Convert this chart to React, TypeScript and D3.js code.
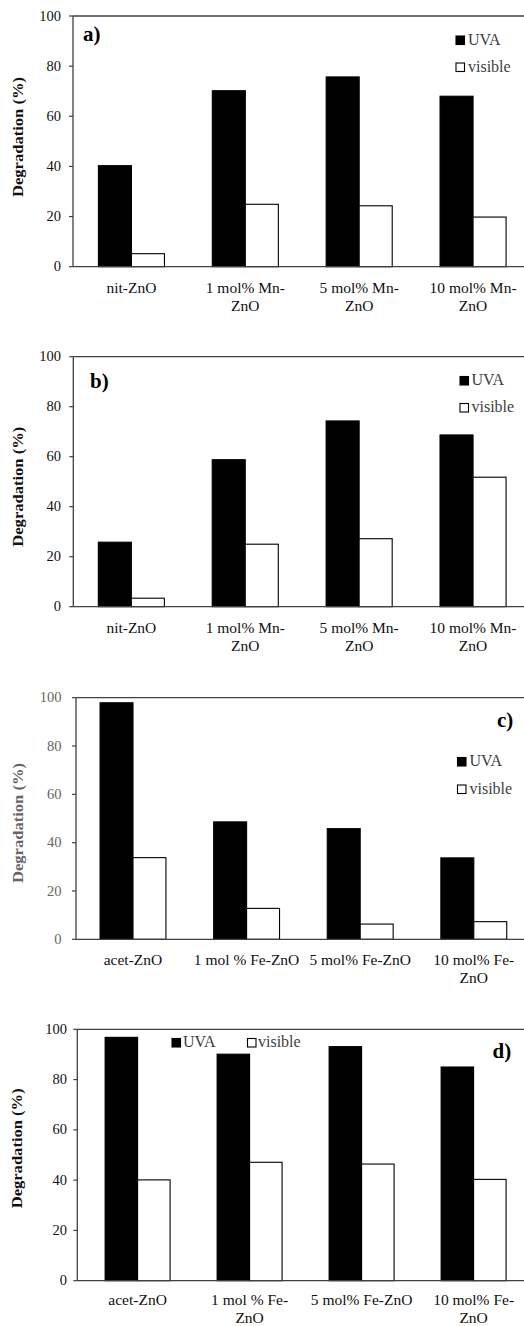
import React from "react";
import * as d3 from "d3";

// ---------- data ----------
const seriesNames = ["UVA", "visible"];
const yTicks = [0, 20, 40, 60, 80, 100];

const categoriesA = [["nit-ZnO"], ["1 mol% Mn-", "ZnO"], ["5 mol% Mn-", "ZnO"], ["10 mol% Mn-", "ZnO"]];
const uvaA = [40.3, 70.2, 75.7, 68.0];
const visibleA = [5.2, 24.9, 24.3, 19.8];

const categoriesB = [["nit-ZnO"], ["1 mol% Mn-", "ZnO"], ["5 mol% Mn-", "ZnO"], ["10 mol% Mn-", "ZnO"]];
const uvaB = [25.8, 58.8, 74.3, 68.7];
const visibleB = [3.4, 25.0, 27.2, 51.8];

const categoriesC = [["acet-ZnO"], ["1 mol % Fe-ZnO"], ["5 mol% Fe-ZnO"], ["10 mol% Fe-", "ZnO"]];
const uvaC = [97.9, 48.6, 45.8, 33.7];
const visibleC = [33.8, 12.8, 6.3, 7.3];

const categoriesD = [["acet-ZnO"], ["1 mol % Fe-", "ZnO"], ["5 mol% Fe-ZnO"], ["10 mol% Fe-", "ZnO"]];
const uvaD = [96.8, 90.1, 93.1, 85.0];
const visibleD = [40.1, 47.1, 46.4, 40.3];

const FONT = "'Liberation Serif', 'Times New Roman', serif";

type Layout = {
  top: number; bottom: number; left: number; xStart: number; xEnd: number;
  tickRight: number; ylabX: number; ylabY: number; labelColor: string;
  letter: string; letterX: number; letterY: number;
  catOffset: number; catGap: number;
  legend: { x: number; y: number; dx: number; dy: number }[];
};

function Panel({ cats, uva, vis, L }: { cats: string[][]; uva: number[]; vis: number[]; L: Layout }) {
  const idx = cats.map((_, i) => String(i));
  const x = d3.scaleBand<string>().domain(idx).range([L.xStart, L.xEnd]).paddingInner(0).paddingOuter(0);
  const y = d3.scaleLinear().domain([0, 100]).range([L.bottom, L.top]);
  const barW = x.step() * 0.29;
  const sub = d3.scaleBand<string>().domain(seriesNames).range([-barW, barW]);
  const axisColor = "#404040";
  return (
    <g>
      {/* bars */}
      {idx.map((k, i) => {
        const cx = (x(k) as number) + x.bandwidth() / 2;
        return (
          <g key={k}>
            {[uva[i], vis[i]].map((v, j) => (
              <rect key={j}
                x={cx + (sub(seriesNames[j]) as number)}
                y={y(v)}
                width={sub.bandwidth()}
                height={y(0) - y(v)}
                fill={j === 0 ? "#000" : "#fff"}
                stroke="#000" strokeWidth={1.1} />
            ))}
          </g>
        );
      })}
      {/* frame */}
      <line x1={L.left} x2={524} y1={L.top} y2={L.top} stroke={axisColor} strokeWidth={1.3} />
      <line x1={L.left} x2={L.left} y1={L.top} y2={L.bottom} stroke={axisColor} strokeWidth={1.3} />
      <line x1={L.left} x2={524} y1={L.bottom} y2={L.bottom} stroke={axisColor} strokeWidth={1.3} />
      {/* ticks */}
      {yTicks.map((t) => (
        <g key={t}>
          <line x1={L.left - 4} x2={L.left} y1={y(t)} y2={y(t)} stroke={axisColor} strokeWidth={1.2} />
          <text x={L.tickRight} y={y(t) + 4.6} textAnchor="end" fontSize={14.5}
            fontFamily={FONT} fill={L.labelColor}>{t}</text>
        </g>
      ))}
      {/* y label */}
      <text transform={`translate(${L.ylabX},${L.ylabY}) rotate(-90)`} textAnchor="middle"
        fontSize={14} fontWeight="bold" fontFamily={FONT} fill={L.labelColor}
        textLength={120} lengthAdjust="spacingAndGlyphs" dy={5}>Degradation (%)</text>
      {/* category labels */}
      {idx.map((k, i) => {
        const cx = (x(k) as number) + x.bandwidth() / 2;
        return (
          <text key={k} textAnchor="middle" fontSize={15.5} fontFamily={FONT} fill="#111">
            {cats[i].map((line, li) => (
              <tspan key={li} x={cx} y={L.bottom + L.catOffset + li * L.catGap}>{line}</tspan>
            ))}
          </text>
        );
      })}
      {/* panel letter */}
      <text x={L.letterX} y={L.letterY} fontSize={21} fontWeight="bold" fontFamily={FONT} fill="#000">{L.letter}</text>
      {/* legend */}
      {seriesNames.map((s, j) => (
        <g key={s}>
          <rect x={L.legend[j].x} y={L.legend[j].y} width={8.5} height={8.5}
            fill={j === 0 ? "#000" : "#fff"} stroke="#000" strokeWidth={1.1} />
          <text x={L.legend[j].x + L.legend[j].dx} y={L.legend[j].y + L.legend[j].dy}
            fontSize={16} fontFamily={FONT} fill="#404040">{s}</text>
        </g>
      ))}
    </g>
  );
}

const layoutA: Layout = {
  top: 16, bottom: 266.7, left: 73, xStart: 74.5, xEnd: 530, tickRight: 61,
  ylabX: 18, ylabY: 137, labelColor: "#111", letter: "a)", letterX: 83, letterY: 41,
  catOffset: 26, catGap: 18,
  legend: [{ x: 456, y: 36, dx: 12, dy: 8.5 }, { x: 456, y: 63, dx: 12, dy: 8.5 }],
};
const layoutB: Layout = {
  top: 356.7, bottom: 606.7, left: 73.3, xStart: 74.4, xEnd: 530, tickRight: 61,
  ylabX: 18, ylabY: 486.7, labelColor: "#111", letter: "b)", letterX: 90, letterY: 388,
  catOffset: 26, catGap: 18,
  legend: [{ x: 460, y: 376.5, dx: 11.5, dy: 8.5 }, { x: 460, y: 403.5, dx: 11.5, dy: 8.5 }],
};
const layoutC: Layout = {
  top: 697.7, bottom: 939.3, left: 76, xStart: 76.2, xEnd: 530.6, tickRight: 61.5,
  ylabX: 18, ylabY: 823, labelColor: "#666", letter: "c)", letterX: 497, letterY: 727,
  catOffset: 26, catGap: 18,
  legend: [{ x: 457.5, y: 757.5, dx: 12, dy: 8.5 }, { x: 457.5, y: 785, dx: 12, dy: 8.5 }],
};
const layoutD: Layout = {
  top: 1029.3, bottom: 1280.7, left: 77.3, xStart: 81.6, xEnd: 529.6, tickRight: 67,
  ylabX: 17, ylabY: 1148.3, labelColor: "#111", letter: "d)", letterX: 492.5, letterY: 1058,
  catOffset: 24.5, catGap: 17.5,
  legend: [{ x: 172, y: 1038.5, dx: 11, dy: 8.5 }, { x: 247.5, y: 1038.5, dx: 10.5, dy: 8.5 }],
};

export default function App() {
  return (
    <svg width={524} height={1326} style={{ position: "absolute", left: 0, top: 0, background: "#fff" }}>
      <rect x={0} y={0} width={524} height={1326} fill="#fff" />
      <Panel cats={categoriesA} uva={uvaA} vis={visibleA} L={layoutA} />
      <Panel cats={categoriesB} uva={uvaB} vis={visibleB} L={layoutB} />
      <Panel cats={categoriesC} uva={uvaC} vis={visibleC} L={layoutC} />
      <Panel cats={categoriesD} uva={uvaD} vis={visibleD} L={layoutD} />
    </svg>
  );
}
